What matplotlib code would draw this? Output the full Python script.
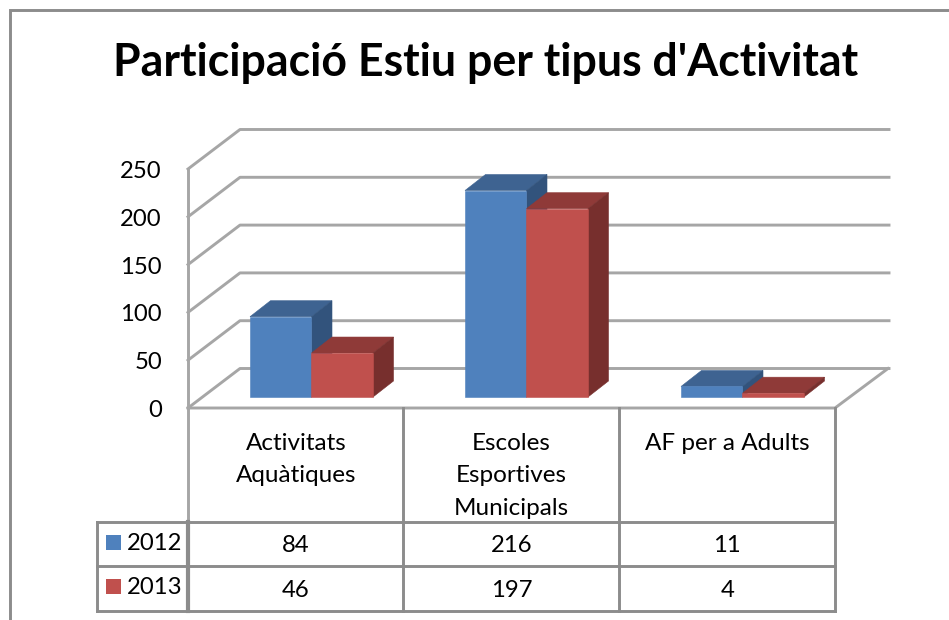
import matplotlib
matplotlib.use("Agg")
import matplotlib.pyplot as plt
from matplotlib.patches import Polygon, Rectangle

plt.rcParams['font.family'] = ['Lato', 'DejaVu Sans']

title = "Participació Estiu per tipus d'Activitat"
categories = ["Activitats\nAquàtiques", "Escoles\nEsportives\nMunicipals", "AF per a Adults"]
years = ["2012", "2013"]
values_2012 = [84, 216, 11]
values_2013 = [46, 197, 4]
y_ticks = [0, 50, 100, 150, 200, 250]

W, H = 949, 620
BASE = 397          # pixel row of value 0 at the bar front
SCALE = 0.956       # pixels per unit
GREY = '#a6a6a6'
DARK = '#8c8c8c'
BLUE = ['#4f81bd', '#3e6391', '#32537c']
RED = ['#c0504d', '#8f3a38', '#772f2d']
LW = 2.1

fig = plt.figure(figsize=(W / 100, H / 100), dpi=100)

# value axes: y is in chart units, x in pixels
ax = fig.add_axes([0, 0, 1, 1])
ax.set_xlim(0, W)
ax.set_ylim((BASE - H) / SCALE, BASE / SCALE)
ax.axis('off')

# overlay for frame, table and text, in pixels
px = fig.add_axes([0, 0, 1, 1], facecolor='none')
px.set_xlim(0, W)
px.set_ylim(H, 0)
px.axis('off')

# outer frame
px.plot([10, 10, W], [H, 10, 10], color=DARK, lw=LW, solid_joinstyle='miter')
px.text(485.5, 63, title, fontsize=32.1, fontweight='bold', ha='center', va='center', color='black')

# walls and gridlines
floor = -11 / SCALE
depth_x, depth_y = 52, 39.5 / SCALE
for v in y_ticks:
    ax.plot([188, 188 + depth_x, 889], [floor + v, floor + v + depth_y, floor + v + depth_y],
            color=GREY, lw=LW, zorder=1)
    px.text(162, BASE + 13.5 - SCALE * v, str(v), fontsize=17.2, ha='right', va='center')
ax.plot([188, 188], [floor, floor + 250], color=GREY, lw=LW, zorder=1)
ax.plot([188, 835, 888], [floor, floor, floor + depth_y], color=GREY, lw=LW, zorder=1)

# bars
bar_w = 61.5
bar_dx, bar_dy = 20.5, 16 / SCALE


def draw_bars(xs, vals, colors, z):
    ax.bar(xs, vals, width=bar_w, align='edge', color=colors[0], ec=colors[0], lw=0.4, zorder=z + 0.1)
    for x, v in zip(xs, vals):
        top = [(x, v), (x + bar_w, v), (x + bar_w + bar_dx, v + bar_dy), (x + bar_dx, v + bar_dy)]
        side = [(x + bar_w, 0), (x + bar_w + bar_dx, bar_dy), (x + bar_w + bar_dx, v + bar_dy), (x + bar_w, v)]
        ax.add_patch(Polygon(top, closed=True, fc=colors[1], ec=colors[1], lw=0.4, zorder=z))
        ax.add_patch(Polygon(side, closed=True, fc=colors[2], ec=colors[2], lw=0.4, zorder=z))


col_x = [188.5, 403.5, 619.5, 835]
x_2012 = [c + 61.5 for c in col_x[:3]]
x_2013 = [x + bar_w for x in x_2012]
draw_bars(x_2012, values_2012, BLUE, 3)
draw_bars(x_2013, values_2013, RED, 4)

# data table
row_y = [408, 522, 566, 611]
for x in col_x[1:]:
    px.plot([x, x], [row_y[0], row_y[3]], color=DARK, lw=LW)
px.plot([188.5, 188.5], [row_y[0], row_y[1]], color=GREY, lw=LW)
px.plot([188.5, 188.5], [row_y[1], row_y[3]], color=DARK, lw=3)
px.plot([97, 97], [row_y[1], row_y[3]], color=DARK, lw=LW)
for y in row_y[1:]:
    px.plot([97, 835], [y, y], color=DARK, lw=LW)

for i, cat in enumerate(categories):
    xc = (col_x[i] + col_x[i + 1]) / 2
    for j, line in enumerate(cat.split('\n')):
        px.text(xc, 443.5 + 32.5 * j, line, fontsize=17.5, ha='center', va='center')
    px.text(xc, 545.5, str(values_2012[i]), fontsize=17.2, ha='center', va='center')
    px.text(xc, 590.5, str(values_2013[i]), fontsize=17.2, ha='center', va='center')

for year, y, c in zip(years, [542, 586], [BLUE[0], RED[0]]):
    px.add_patch(Rectangle((106, y - 7.5), 15, 15, fc=c, ec='none'))
    px.text(127, y + 1, year, fontsize=17.2, ha='left', va='center')

fig.savefig('out.png', dpi=100)
